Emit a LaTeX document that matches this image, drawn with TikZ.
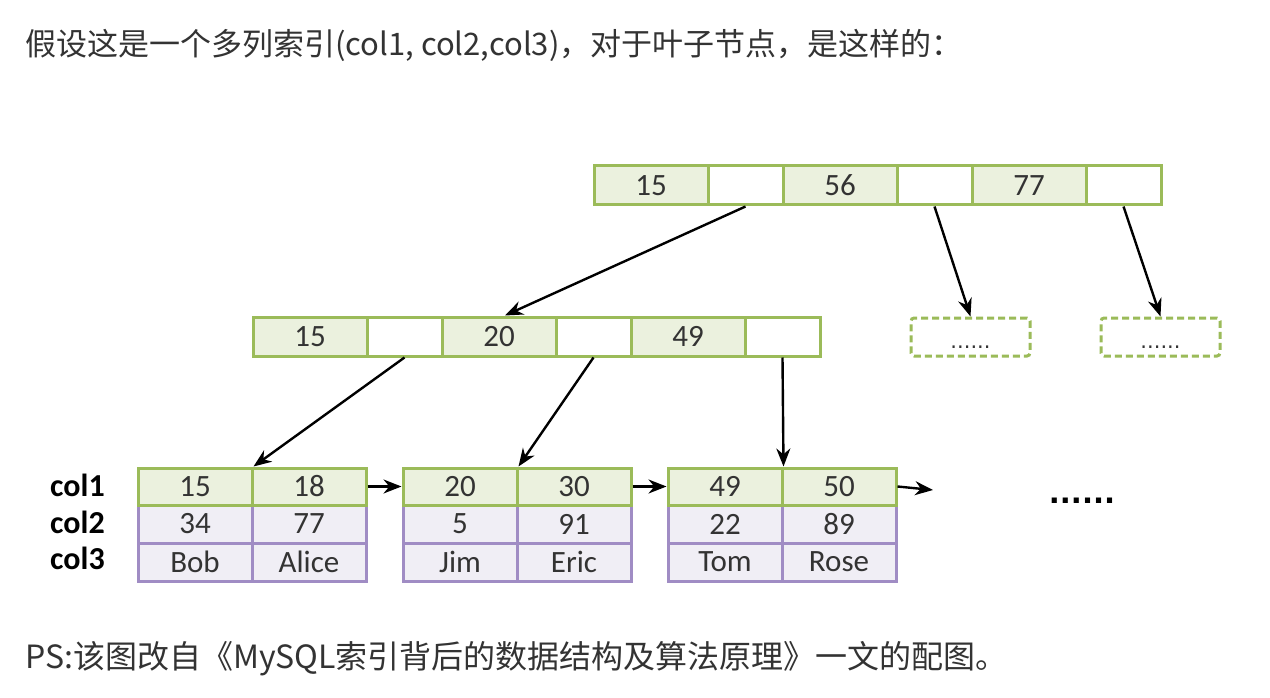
\documentclass[tikz,border=0pt]{standalone}
\usepackage{fontspec}
\setmainfont{Carlito}
\newfontfamily\cjk{Noto Sans CJK SC}
\newfontfamily\dejavu{DejaVu Sans}
\usetikzlibrary{arrows.meta}
\definecolor{gline}{HTML}{9BBB59}
\definecolor{gfill}{HTML}{EBF1DE}
\definecolor{pline}{HTML}{A08CC4}
\definecolor{pfill}{HTML}{F0EEF5}
\definecolor{txt}{HTML}{333333}
\tikzset{
  cell/.style={draw=gline, line width=3pt, minimum height=39pt, inner sep=0pt, text=txt,
    font=\fontsize{31}{33}\selectfont},
  keycell/.style={cell, fill=gfill, minimum width=114pt},
  ptrcell/.style={cell, fill=white, minimum width=75pt},
  leafkey/.style={cell, fill=gfill, minimum width=114pt, minimum height=37pt},
  leafsub/.style={cell, draw=pline, fill=pfill, minimum width=114pt, minimum height=38pt},
  dbox/.style={draw=gline, line width=3pt, dashed, dash pattern=on 7pt off 4pt, minimum width=119pt,
    minimum height=38pt, inner sep=0pt, rounded corners=3pt},
  dots/.style={text=txt, font=\dejavu\fontsize{21}{22}\selectfont, inner sep=0pt, anchor=base},
  arr/.style={draw=black, line width=2.4pt, -{Stealth[length=18pt,width=14pt]}},
  collab/.style={font=\fontsize{32}{34}\selectfont\bfseries, text=black, anchor=west, inner sep=0pt},
  para/.style={text=txt, anchor=base west, inner sep=0pt}
}
\begin{document}
\begin{tikzpicture}[x=1pt,y=-1pt]
\useasboundingbox (0,0) rectangle (1270,698);
\fill[white] (0,0) rectangle (1270,698);
\node[para, font=\cjk\fontsize{31}{34}\selectfont] (head) at (25,56) {假设这是一个多列索引(col1, col2,col3)，对于叶子节点，是这样的：};
\node[para, font=\cjk\fontsize{32}{35}\selectfont] (foot) at (25,668) {PS:该图改自《MySQL索引背后的数据结构及算法原理》一文的配图。};
% top
\node[keycell] (t1) at (651,185.5) {15};
\node[ptrcell] (t2) at (745.5,185.5) {};
\node[keycell] (t3) at (840,185.5) {56};
\node[ptrcell] (t4) at (934.5,185.5) {};
\node[keycell] (t5) at (1029,185.5) {77};
\node[ptrcell] (t6) at (1123.5,185.5) {};
% middle
\node[keycell] (m1) at (310,336.5) {15};
\node[ptrcell] (m2) at (404.5,336.5) {};
\node[keycell] (m3) at (499,336.5) {20};
\node[ptrcell] (m4) at (593.5,336.5) {};
\node[keycell] (m5) at (688,336.5) {49};
\node[ptrcell] (m6) at (782.5,336.5) {};
% dashed
\node[dbox] (d1) at (970.5,337) {};
\node[dbox] (d2) at (1160.5,337) {};
\node[dots] (d1t) at (970.5,348) {......};
\node[dots] (d2t) at (1160.5,348) {......};
% leaves
\node[leafsub] (l1c) at (195,562) {Bob};
\node[leafsub] (l1f) at (309,562) {Alice};
\node[leafsub] (l1b) at (195,524) {34};
\node[leafsub] (l1e) at (309,524) {77};
\node[leafkey] (l1a) at (195,486.5) {15};
\node[leafkey] (l1d) at (309,486.5) {18};
\node[leafsub] (l2c) at (460,562) {Jim};
\node[leafsub] (l2f) at (574,562) {Eric};
\node[leafsub] (l2b) at (460,524) {5};
\node[leafsub] (l2e) at (574,524) {91};
\node[leafkey] (l2a) at (460,486.5) {20};
\node[leafkey] (l2d) at (574,486.5) {30};
\node[leafsub] (l3c) at (725,562) {Tom};
\node[leafsub] (l3f) at (839,562) {Rose};
\node[leafsub] (l3b) at (725,524) {22};
\node[leafsub] (l3e) at (839,524) {89};
\node[leafkey] (l3a) at (725,486.5) {49};
\node[leafkey] (l3d) at (839,486.5) {50};
\node[collab] (c1) at (50,485) {col1};
\node[collab] (c2) at (50,522) {col2};
\node[collab] (c3) at (50,558) {col3};
\node[text=black, font=\dejavu\fontsize{29}{30}\selectfont\bfseries, inner sep=0pt, anchor=base] (more) at (1082,503) {......};
\coordinate (endp) at (933,490);
% arrows
\draw[arr] (t2.south) -- ([xshift=6pt]m3.north);
\draw[arr] (t4.south) -- (d1.north);
\draw[arr] (t6.south) -- (d2.north);
\draw[arr] (m2.south) -- (l1a.north east);
\draw[arr] (m4.south) -- (l2a.north east);
\draw[arr] (m6.south) -- (l3a.north east);
\draw[arr] (l1d.east) -- (l2a.west);
\draw[arr] (l2d.east) -- (l3a.west);
\draw[arr] (l3d.east) -- (endp);
\end{tikzpicture}
\end{document}
